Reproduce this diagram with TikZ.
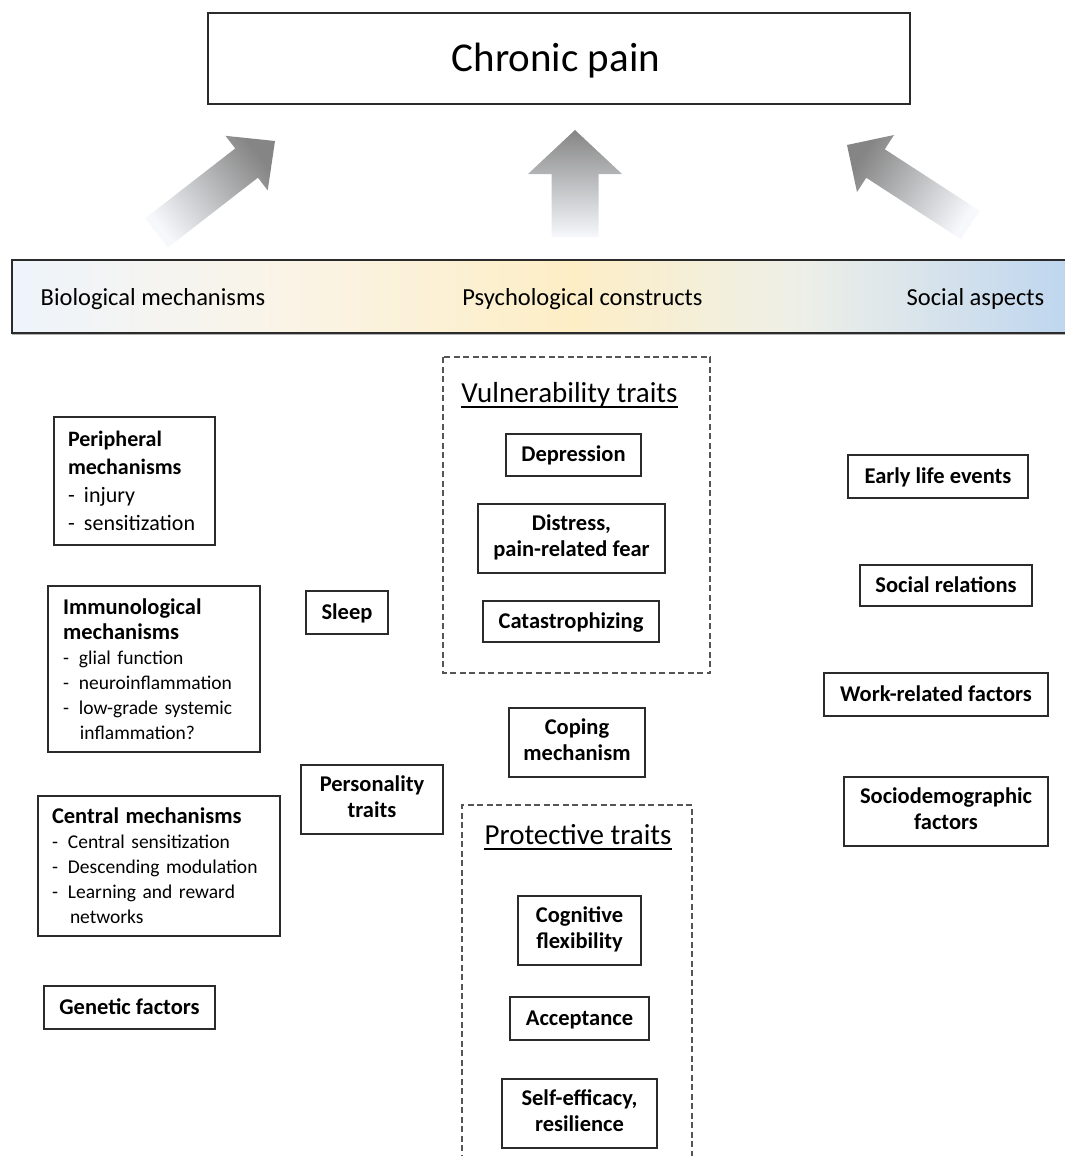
\documentclass[tikz,border=0pt]{standalone}
\usepackage{fontspec}
\setmainfont{Carlito}
\usetikzlibrary{shadows}
\definecolor{barA}{HTML}{EEF4FB}
\definecolor{barB}{HTML}{FAF4E8}
\definecolor{barC}{HTML}{FDEEC6}
\definecolor{barD}{HTML}{EDEFE8}
\definecolor{barE}{HTML}{BFD6EF}
\definecolor{arrowdark}{HTML}{858585}
\definecolor{arrowlight}{HTML}{F6F8FC}
\definecolor{linegray}{HTML}{2B2B2B}
\definecolor{dashgray}{HTML}{555555}
\pgfdeclarehorizontalshading{barshade}{100bp}{color(0bp)=(barA); color(25bp)=(barA); color(37.5bp)=(barB); color(51.5bp)=(barC); color(62.5bp)=(barD); color(75bp)=(barE); color(100bp)=(barE)}
\newcommand{\dashitem}{\makebox[16pt][l]{-}}
\newcommand{\lastdepth}{\rule[-5.5pt]{0pt}{5.5pt}}
\begin{document}
\begin{tikzpicture}[x=1pt,y=-1pt,
  softshadow/.style={drop shadow={shadow xshift=1.2pt, shadow yshift=-1.2pt, opacity=0.25, fill=black}},
  sbox/.style={draw=linegray, line width=1.5pt, fill=white, inner sep=0pt, align=center,
    font=\bfseries\fontsize{22.5}{26}\selectfont, softshadow},
  oneline/.style={text height=16pt, text depth=2.5pt},
  listbox/.style={draw=linegray, line width=1.5pt, fill=white, inner ysep=0pt, align=left, softshadow},
  dashframe/.style={draw=dashgray, line width=1.6pt, dash pattern=on 6pt off 3.5pt},
  bartext/.style={font=\fontsize{24.5}{28}\selectfont, anchor=base, inner sep=0pt},
  titletext/.style={font=\fontsize{29}{34}\selectfont, anchor=base, inner sep=0pt},
  bigarrow/.style={top color=arrowdark, bottom color=arrowlight}
]
\useasboundingbox (0,0) rectangle (1065,1156);

% top box
\node (cp) [draw=linegray, line width=1.8pt, fill=white, minimum width=702, minimum height=91,
  inner sep=0pt, text height=29pt, text depth=2.6pt, font=\fontsize{41}{48}\selectfont, softshadow]
  at (559,58.5) {\hspace*{-6pt}Chronic pain};

% arrows
\shade[bigarrow, shading angle=-52.2]
  (275,141) -- (225.41,135.81) -- (235.22,148.45) -- (145.16,218.33)
  -- (167.84,247.57) -- (257.90,177.69) -- (267.71,190.33) -- cycle;
\shade[bigarrow, shading angle=0]
  (575,130) -- (528,174) -- (551.5,174) -- (551.5,237)
  -- (598.5,237) -- (598.5,174) -- (622,174) -- cycle;
\shade[bigarrow, shading angle=57]
  (847,145) -- (894.04,135.0) -- (884.78,149.26) -- (979.55,210.80)
  -- (961.03,239.32) -- (866.26,177.78) -- (857.0,192.04) -- cycle;

% bar
\node (bar) [draw=linegray, line width=1.6pt, shading=barshade, minimum width=1056, minimum height=73,
  inner sep=0pt, drop shadow={shadow xshift=0pt, shadow yshift=-1.5pt, opacity=0.3, fill=black}]
  at (540,296.5) {};
\node (bio) [bartext] at (153,305) {Biological mechanisms};
\node (psy) [bartext] at (582.5,305) {Psychological constructs};
\node (soc) [bartext] at (975.5,305) {Social aspects};

% left column
\node (periph) [listbox, minimum width=161, minimum height=128, inner xsep=14pt, text width=133,
  font=\fontsize{22}{28}\selectfont] at (134.5,481)
  {\textbf{Peripheral}\\\textbf{mechanisms}\\\dashitem injury\\\dashitem sensitization};
\node (immuno) [listbox, minimum width=212, minimum height=166, inner xsep=15pt, text width=182,
  font=\fontsize{19.5}{25}\selectfont] at (154,669)
  {{\bfseries\fontsize{22.5}{25}\selectfont Immunological}\\
   {\bfseries\fontsize{22.5}{25}\selectfont mechanisms}\\
   \dashitem glial function\\
   \dashitem neuroinflammation\\
   \dashitem low-grade systemic\\
   \hspace*{17pt}inflammation?};
\node (central) [listbox, minimum width=242, minimum height=140, inner xsep=14pt, text width=214,
  font=\fontsize{19.5}{25}\selectfont] at (159,866)
  {{\bfseries\fontsize{22.5}{25}\selectfont Central mechanisms}\\
   \dashitem Central sensitization\\
   \dashitem Descending modulation\\
   \dashitem Learning and reward\\
   \hspace*{18pt}networks};
\node (genetic) [sbox, oneline, minimum width=171, minimum height=43] at (129.5,1007.5) {Genetic factors};
\node (sleep) [sbox, oneline, minimum width=82, minimum height=43] at (347,612.5) {Sleep};
\node (person) [sbox, minimum width=142, minimum height=69] at (372,799.5) {Personality\\traits\lastdepth};

% vulnerability traits
\draw[dashframe] (443,357) rectangle (710,673);
\node (vt) [titletext] at (569.5,402) {Vulnerability traits};
\draw[line width=1.4pt] ([yshift=-5pt]vt.base west) -- ([yshift=-5pt]vt.base east);
\node (dep) [sbox, oneline, minimum width=135, minimum height=42] at (573.5,455) {Depression};
\node (dist) [sbox, minimum width=187, minimum height=69] at (571.5,538.5) {Distress,\\pain-related fear\lastdepth};
\node (cat) [sbox, oneline, minimum width=176, minimum height=41] at (571,621.5) {Catastrophizing};

\node (coping) [sbox, minimum width=136, minimum height=69] at (577,742.5) {Coping\\mechanism\lastdepth};

% protective traits
\draw[dashframe] (462,1170) -- (462,805) -- (692,805) -- (692,1170);
\node (pt) [titletext] at (578,844) {Protective traits};
\draw[line width=1.4pt] ([yshift=-5pt]pt.base west) -- ([yshift=-5pt]pt.base east);
\node (cog) [sbox, minimum width=123, minimum height=69] at (579.5,930.5) {Cognitive\\flexibility\lastdepth};
\node (acc) [sbox, oneline, minimum width=139, minimum height=43] at (579.5,1018.5) {Acceptance};
\node (self) [sbox, minimum width=155, minimum height=69] at (579.5,1113.5) {Self-efficacy,\\resilience\lastdepth};

% social column
\node (early) [sbox, oneline, minimum width=180, minimum height=43] at (938,476.5) {Early life events};
\node (socrel) [sbox, oneline, minimum width=172, minimum height=41] at (946,585.5) {Social relations};
\node (work) [sbox, oneline, minimum width=224, minimum height=43] at (936,694.5) {Work-related factors};
\node (sociodem) [sbox, minimum width=204, minimum height=69] at (946,811.5) {Sociodemographic\\factors\lastdepth};
\end{tikzpicture}
\end{document}
